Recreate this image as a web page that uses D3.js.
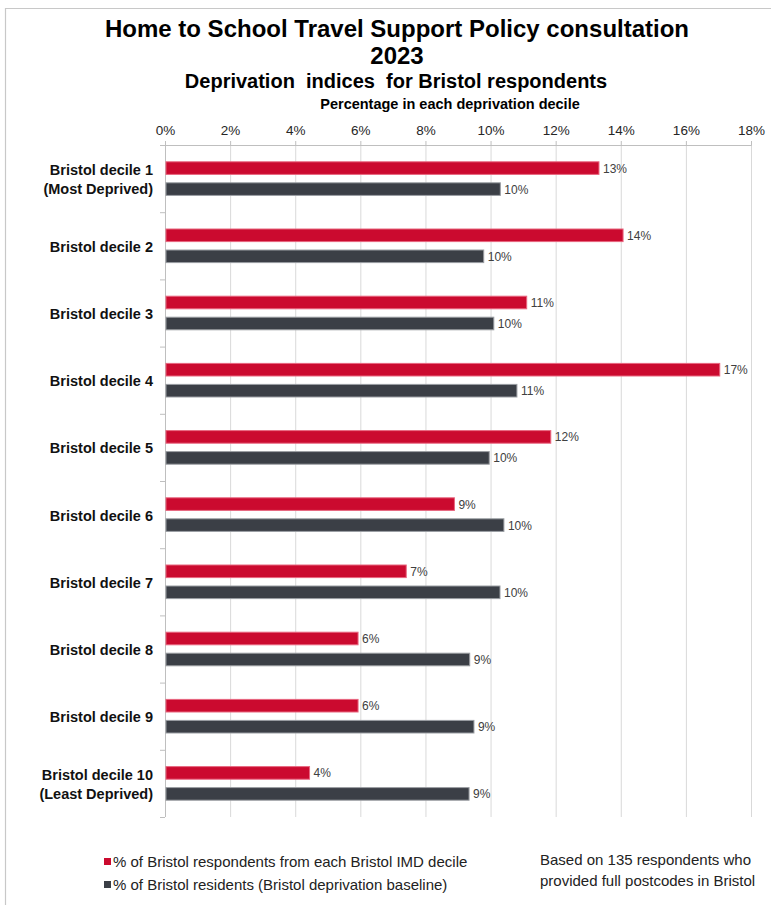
<!DOCTYPE html>
<html>
<head>
<meta charset="utf-8">
<script src="https://cdn.jsdelivr.net/npm/d3@7"></script>
<style>
  html, body { margin: 0; padding: 0; background: #fff; }
  svg { display: block; font-family: "Liberation Sans", Arial, sans-serif; }
  text { white-space: pre; }
</style>
</head>
<body>
<svg id="chart" width="771" height="910"></svg>
<script>
// ---------- Data ----------
const titleLines = ["Home to School Travel Support Policy consultation", "2023"];
const subtitle = "Deprivation  indices  for Bristol respondents";
const axisTitle = "Percentage in each deprivation decile";
const categories = [
  "Bristol decile 1\n(Most Deprived)",
  "Bristol decile 2",
  "Bristol decile 3",
  "Bristol decile 4",
  "Bristol decile 5",
  "Bristol decile 6",
  "Bristol decile 7",
  "Bristol decile 8",
  "Bristol decile 9",
  "Bristol decile 10\n(Least Deprived)"
];
const seriesNames = [
  "% of Bristol respondents from each Bristol IMD decile",
  "% of Bristol residents (Bristol deprivation baseline)"
];
const respondents = [13.33, 14.07, 11.11, 17.04, 11.85, 8.89, 7.41, 5.93, 5.93, 4.44];
const residents   = [10.30, 9.79, 10.10, 10.81, 9.96, 10.41, 10.29, 9.36, 9.49, 9.34];
const xTicks = [0, 2, 4, 6, 8, 10, 12, 14, 16, 18];
const noteLines = ["Based on 135 respondents who", "provided full postcodes in Bristol"];
const colors = ["#CB0A2F", "#3B3F46"];
const strokeColors = ["#E8667F", "#9A9DA2"];

// ---------- Layout ----------
const svg = d3.select("#chart");
const pLeft = 165, pRight = 751, pTop = 145, pBottom = 817;

// frame
svg.append("path")
  .attr("d", `M5.5,${905} L5.5,8.5 L771,8.5`)
  .attr("fill", "none").attr("stroke", "#C8C8C8").attr("stroke-width", 1.2);

const x = d3.scaleLinear().domain([0, 18]).range([pLeft, pRight]);
const y = d3.scaleBand().domain(categories).range([pTop, pBottom]).paddingInner(0).paddingOuter(0);
const ySub = d3.scaleBand().domain([0, 1]).range([0, y.bandwidth()]).paddingInner(0.4).paddingOuter(0.8);

// titles
const tg = svg.append("g").attr("text-anchor", "middle").attr("fill", "#000");
tg.append("text").attr("x", 397).attr("y", 37).attr("font-size", 24).attr("font-weight", "bold").text(titleLines[0]);
tg.append("text").attr("x", 397).attr("y", 64).attr("font-size", 24).attr("font-weight", "bold").text(titleLines[1]);
tg.append("text").attr("x", 396).attr("y", 88).attr("font-size", 20).attr("font-weight", "bold").text(subtitle);
tg.append("text").attr("x", 450).attr("y", 109).attr("font-size", 14.5).attr("font-weight", "bold").text(axisTitle);

// gridlines
svg.append("g").selectAll("line").data(xTicks.slice(1)).join("line")
  .attr("x1", d => x(d) + 0.5).attr("x2", d => x(d) + 0.5)
  .attr("y1", pTop).attr("y2", pBottom)
  .attr("stroke", "#D9D9D9").attr("stroke-width", 1);

// top axis
const xAxis = d3.axisTop(x).tickValues(xTicks).tickFormat(d => d + "%").tickSize(4).tickPadding(6);
const gx = svg.append("g").attr("transform", `translate(0,${pTop})`).call(xAxis);
gx.select(".domain").attr("stroke", "#BFBFBF");
gx.selectAll(".tick line").attr("stroke", "#BFBFBF");
gx.selectAll(".tick text").attr("font-size", 13.5).attr("fill", "#262626")
  .attr("font-family", "'Liberation Sans', Arial, sans-serif");

// left axis (line + ticks at band boundaries)
const ga = svg.append("g");
ga.append("line").attr("x1", pLeft + 0.5).attr("x2", pLeft + 0.5).attr("y1", pTop).attr("y2", pBottom)
  .attr("stroke", "#BFBFBF");
const boundaries = categories.map(c => y(c)).concat([pBottom]);
ga.selectAll("line.t").data(boundaries).join("line").attr("class", "t")
  .attr("x1", pLeft - 5).attr("x2", pLeft).attr("y1", d => d + 0.5).attr("y2", d => d + 0.5)
  .attr("stroke", "#BFBFBF");

// category labels
const lg = svg.append("g").attr("text-anchor", "end").attr("font-size", 14.5).attr("font-weight", "bold").attr("fill", "#111");
categories.forEach(c => {
  const lines = c.split("\n");
  const cy = y(c) + y.bandwidth() / 2;
  const lh = 19;
  lines.forEach((ln, i) => {
    lg.append("text").attr("x", 153)
      .attr("y", cy + (i - (lines.length - 1) / 2) * lh + 6)
      .text(ln);
  });
});

// bars
const series = [respondents, residents];
series.forEach((vals, si) => {
  const g = svg.append("g");
  g.selectAll("rect").data(categories).join("rect")
    .attr("x", pLeft + 1)
    .attr("y", (c) => y(c) + ySub(si))
    .attr("width", (c, i) => x(vals[i]) - pLeft - 1)
    .attr("height", ySub.bandwidth())
    .attr("fill", colors[si])
    .attr("stroke", strokeColors[si]).attr("stroke-width", 1);
  g.selectAll("text").data(categories).join("text")
    .attr("x", (c, i) => x(vals[i]) + 4)
    .attr("y", (c) => y(c) + ySub(si) + ySub.bandwidth() / 2 + 4.5)
    .attr("font-size", 12).attr("fill", "#404040")
    .text((c, i) => d3.format(".0%")(vals[i] / 100));
});

// legend
const leg = svg.append("g");
seriesNames.forEach((s, i) => {
  const ly = 862 + i * 23;
  leg.append("rect").attr("x", 104).attr("y", ly - 4).attr("width", 7).attr("height", 7).attr("fill", colors[i]);
  leg.append("text").attr("x", 113).attr("y", ly + 5).attr("font-size", 15).attr("fill", "#222").text(s);
});

// note
noteLines.forEach((t, i) => {
  svg.append("text").attr("x", 540).attr("y", 865 + i * 21).attr("font-size", 15).attr("fill", "#222").text(t);
});
</script>
</body>
</html>
